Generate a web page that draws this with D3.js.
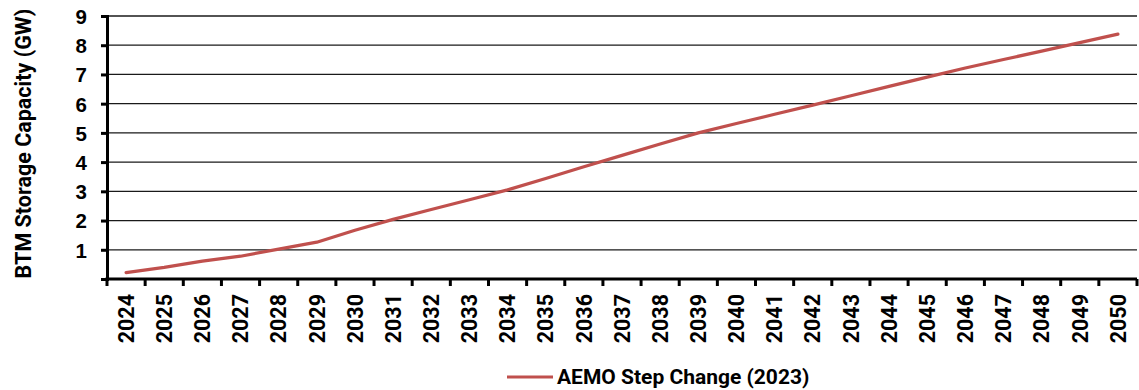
<!DOCTYPE html>
<html>
<head>
<meta charset="utf-8">
<script src="https://cdn.jsdelivr.net/npm/d3@7"></script>
<style>
  html, body { margin: 0; padding: 0; background: #fff; }
  svg { display: block; font-family: Roboto, "Liberation Sans", Arial, sans-serif; }
</style>
</head>
<body>
<svg id="chart" width="1139" height="390"></svg>
<script>
// Behind-the-meter storage capacity, AEMO Step Change scenario (GW)
const years = ["2024","2025","2026","2027","2028","2029","2030","2031","2032","2033",
  "2034","2035","2036","2037","2038","2039","2040","2041","2042","2043",
  "2044","2045","2046","2047","2048","2049","2050"];
const stepChange = [0.22, 0.40, 0.61, 0.78, 1.02, 1.26, 1.67, 2.04, 2.38, 2.71,
  3.05, 3.44, 3.84, 4.23, 4.62, 5.00, 5.32, 5.64, 5.95, 6.27,
  6.59, 6.91, 7.22, 7.51, 7.80, 8.09, 8.38];
const yTicks = [1, 2, 3, 4, 5, 6, 7, 8, 9];
const seriesName = "AEMO Step Change (2023)";
const yTitle = "BTM Storage Capacity (GW)";

const svg = d3.select("#chart");
const m = { left: 107, right: 2, top: 16, bottom: 111 };
const W = 1139, H = 390;
const x0 = m.left, x1 = W - m.right, y0 = H - m.bottom, y1 = m.top;

const x = d3.scaleBand().domain(years).range([x0, x1]).paddingInner(0).paddingOuter(0);
const y = d3.scaleLinear().domain([0, 9]).range([y0, y1]);

// horizontal gridlines
svg.append("g")
  .selectAll("line")
  .data(yTicks)
  .join("line")
  .attr("x1", x0).attr("x2", x1)
  .attr("y1", d => y(d)).attr("y2", d => y(d))
  .attr("stroke", "#1a1a1a").attr("stroke-width", 1.3);

// y axis
const yAxis = svg.append("g")
  .attr("transform", `translate(${x0},0)`)
  .call(d3.axisLeft(y).tickValues([0].concat(yTicks)).tickSize(6).tickPadding(14)
    .tickFormat(d => d === 0 ? "" : d));
yAxis.select(".domain").attr("stroke", "#000").attr("stroke-width", 3);
yAxis.selectAll(".tick line").attr("stroke", "#000").attr("stroke-width", 3);
yAxis.selectAll(".tick text")
  .attr("fill", "#000").style("font-size", "20.5px").style("font-weight", "bold")
  .attr("dy", "0.36em");

// x axis with ticks on category boundaries
const xAxis = svg.append("g").attr("transform", `translate(0,${y0})`);
xAxis.append("line")
  .attr("x1", x0 - 1.5).attr("x2", x1).attr("y1", 0).attr("y2", 0)
  .attr("stroke", "#000").attr("stroke-width", 3);
xAxis.selectAll("line.tk")
  .data(years.concat(["end"]))
  .join("line").attr("class", "tk")
  .attr("x1", (d, i) => i < years.length ? x(d) : x1)
  .attr("x2", (d, i) => i < years.length ? x(d) : x1)
  .attr("y1", 0).attr("y2", 7)
  .attr("stroke", "#000").attr("stroke-width", 3);
xAxis.selectAll("text")
  .data(years)
  .join("text")
  .attr("transform", d => `translate(${x(d) + x.bandwidth() / 2},15) rotate(-90)`)
  .attr("text-anchor", "end")
  .attr("dy", "0.36em")
  .attr("fill", "#000")
  .style("font-size", "21.5px").style("font-weight", "bold")
  .text(d => d);

// series line
const line = d3.line()
  .x((d, i) => x(years[i]) + x.bandwidth() / 2)
  .y(d => y(d));
svg.append("path")
  .datum(stepChange)
  .attr("d", line)
  .attr("fill", "none")
  .attr("stroke", "#c0504d")
  .attr("stroke-width", 3.2)
  .attr("stroke-linejoin", "round")
  .attr("stroke-linecap", "round");

// y axis title
svg.append("text")
  .attr("transform", "translate(31,143.5) rotate(-90)")
  .attr("text-anchor", "middle")
  .attr("fill", "#000")
  .style("font-size", "21.5px").style("font-weight", "bold")
  .text(yTitle);

// legend
const lg = svg.append("g").attr("transform", "translate(507,377)");
lg.append("line").attr("x1", 0).attr("x2", 46).attr("y1", 0).attr("y2", 0)
  .attr("stroke", "#c0504d").attr("stroke-width", 3.2);
lg.append("text").attr("x", 50).attr("y", 0).attr("dy", "0.35em")
  .attr("fill", "#000")
  .style("font-size", "21px").style("font-weight", "bold")
  .text(seriesName);
</script>
</body>
</html>
